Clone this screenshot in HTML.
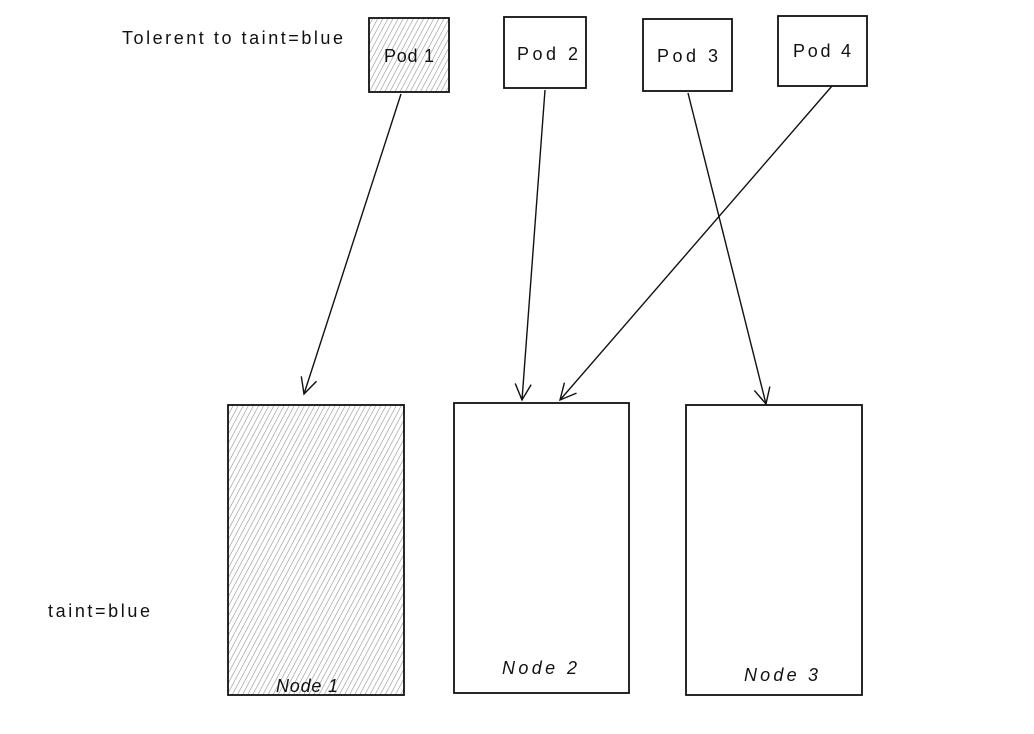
<!DOCTYPE html>
<html><head><style>body{margin:0;background:#fff}svg{display:block}text{font-family:"Liberation Sans",sans-serif;fill:#111}</style></head>
<body>
<svg width="1034" height="734" viewBox="0 0 1034 734" xmlns="http://www.w3.org/2000/svg">
<defs>
<pattern id="h" width="4.5" height="6" patternUnits="userSpaceOnUse" patternTransform="rotate(28)">
<line x1="0" y1="0" x2="0" y2="6" stroke="#8a8a8a" stroke-width="1.1"/>
</pattern>
<marker id="a" viewBox="0 0 20 20" refX="18" refY="10" markerWidth="20" markerHeight="20" markerUnits="userSpaceOnUse" orient="auto">
<path d="M2 2 L18 10 L2 18" fill="none" stroke="#111" stroke-width="1.4"/>
</marker>
</defs>
<g stroke="#111" stroke-width="1.8" fill="none">
<rect x="369" y="18" width="80" height="74" fill="url(#h)"/>
<rect x="504" y="17" width="82" height="71"/>
<rect x="643" y="19" width="89" height="72"/>
<rect x="778" y="16" width="89" height="70"/>
<rect x="228" y="405" width="176" height="290" fill="url(#h)"/>
<rect x="454" y="403" width="175" height="290"/>
<rect x="686" y="405" width="176" height="290"/>
</g>
<g stroke="#111" stroke-width="1.4" fill="none" marker-end="url(#a)">
<line x1="401" y1="94" x2="304" y2="394"/>
<line x1="545" y1="90" x2="522" y2="400"/>
<line x1="688" y1="93" x2="766" y2="404"/>
<line x1="832" y1="86" x2="560" y2="400"/>
</g>
<g font-size="18">
<text x="122" y="44" textLength="221" lengthAdjust="spacing">Tolerent to taint=blue</text>
<text x="384" y="62" textLength="50">Pod 1</text>
<text x="517" y="60" textLength="61">Pod 2</text>
<text x="657" y="62" textLength="61">Pod 3</text>
<text x="793" y="57" textLength="58">Pod 4</text>
<text x="48" y="617" textLength="102">taint=blue</text>
<text x="276" y="692" font-style="italic" textLength="62">Node 1</text>
<text x="502" y="674" font-style="italic" textLength="75">Node 2</text>
<text x="744" y="681" font-style="italic" textLength="74">Node 3</text>
</g>
</svg>
</body></html>
